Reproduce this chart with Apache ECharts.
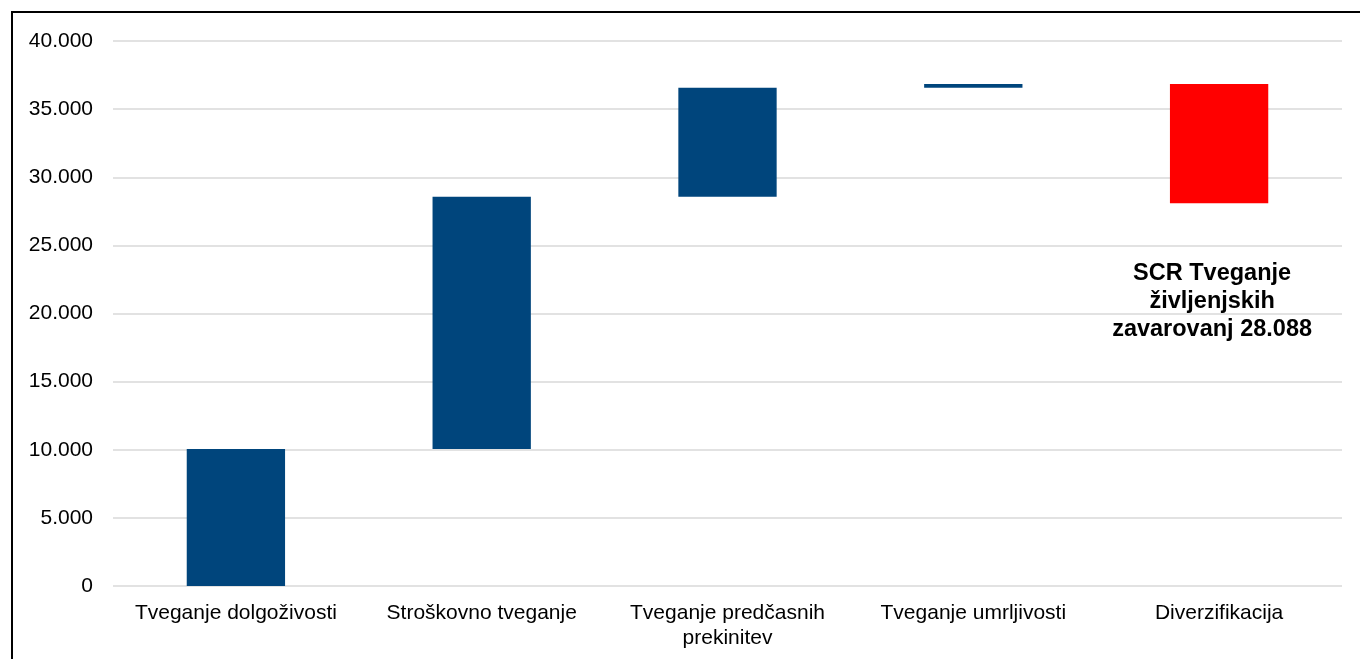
<!DOCTYPE html>
<html>
<head>
<meta charset="utf-8">
<script src="https://cdn.jsdelivr.net/npm/echarts@6/dist/echarts.min.js"></script>
<style>
html,body{margin:0;padding:0;background:#fff;}
#chart{width:1360px;height:659px;}
</style>
</head>
<body>
<div id="chart"></div>
<script>
const categories = ['Tveganje dolgoživosti', 'Stroškovno tveganje', 'Tveganje predčasnih\nprekinitev', 'Tveganje umrljivosti', 'Diverzifikacija'];
const deltas = [10050, 18510, 8000, 280, -8752];
const totalLabel = 'SCR Tveganje\nživljenjskih\nzavarovanj';
const yTicks = [0, 5000, 10000, 15000, 20000, 25000, 30000, 35000, 40000];

function fmt(v) {
  return String(Math.round(v)).replace(/\B(?=(\d{3})+(?!\d))/g, '.');
}

const bases = [], vals = [];
let cum = 0;
deltas.forEach(d => {
  if (d >= 0) { bases.push(cum); vals.push(d); cum += d; }
  else { cum += d; bases.push(cum); vals.push(-d); }
});
const total = cum;

const font = 'Arial, "Liberation Sans", sans-serif';
const chart = echarts.init(document.getElementById('chart'), null, {renderer: 'canvas'});
chart.setOption({
  animation: false,
  backgroundColor: '#fff',
  grid: {left: 113, right: 18, top: 41, bottom: 73, containLabel: false},
  xAxis: {
    type: 'category',
    data: categories,
    axisLine: {show: false},
    axisTick: {show: false},
    axisLabel: {color: '#000', fontSize: 21, fontFamily: font, margin: 15, lineHeight: 25, interval: 0}
  },
  yAxis: {
    type: 'value',
    min: yTicks[0],
    max: yTicks[yTicks.length - 1],
    interval: yTicks[1] - yTicks[0],
    axisLine: {show: false},
    axisTick: {show: false},
    axisLabel: {color: '#000', fontSize: 21, fontFamily: font, margin: 20, formatter: v => fmt(v)},
    splitLine: {lineStyle: {color: '#d9d9d9', width: 1.5}}
  },
  graphic: [{
    type: 'polyline',
    shape: {points: [[12, 659], [12, 12], [1360, 12]]},
    style: {stroke: '#000', lineWidth: 2, fill: null},
    silent: true
  }],
  series: [
    {
      type: 'bar', stack: 'w', data: bases, barWidth: '40%',
      itemStyle: {color: 'transparent'}, silent: true
    },
    {
      type: 'bar', stack: 'w', barWidth: '40%',
      data: vals.map((v, i) => ({
        value: v,
        itemStyle: {color: deltas[i] < 0 ? '#ff0000' : '#00457c'},
        label: deltas[i] < 0 ? {
          show: true, position: 'bottom', distance: 56, offset: [-7, 0],
          formatter: totalLabel + ' ' + fmt(total),
          fontSize: 23.5, fontWeight: 'bold', fontFamily: font, color: '#000', lineHeight: 28, align: 'center'
        } : {show: false}
      }))
    }
  ]
});
</script>
</body>
</html>
